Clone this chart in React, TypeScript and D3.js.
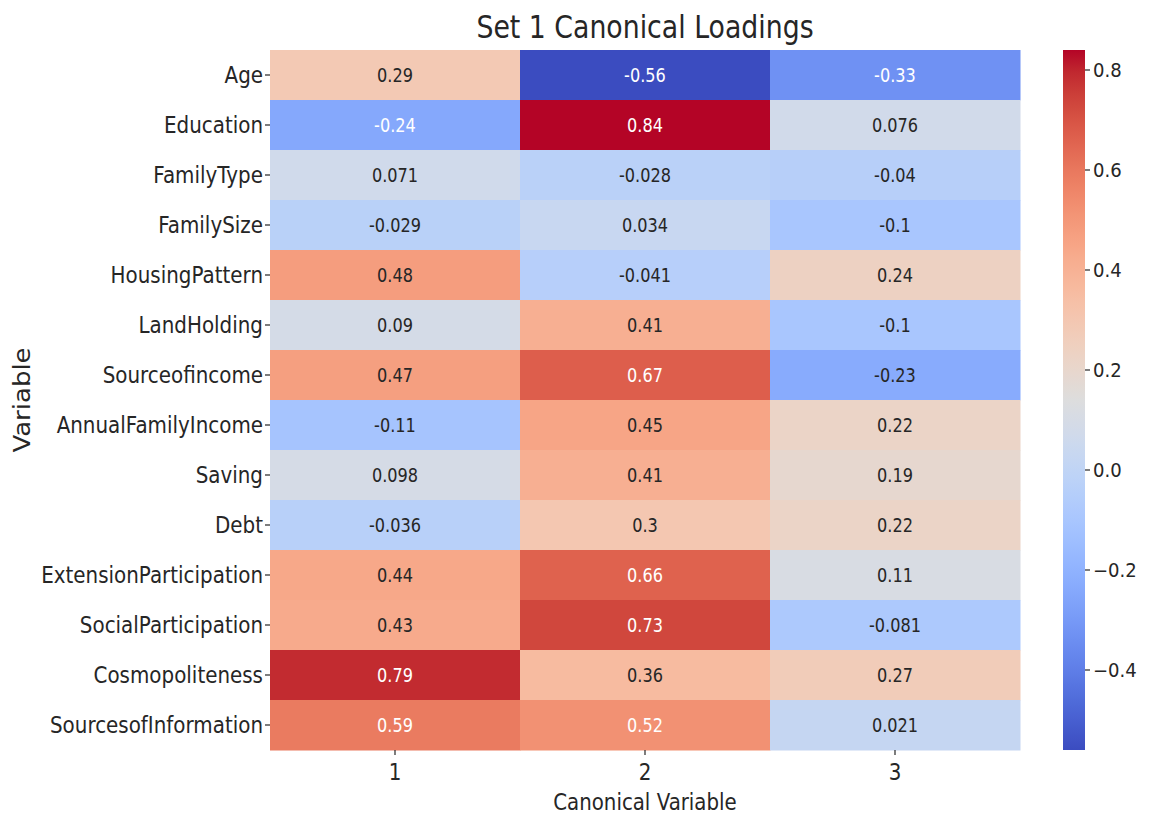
import React from "react";
import * as d3 from "d3";

const variables = [
  "Age", "Education", "FamilyType", "FamilySize", "HousingPattern", "LandHolding",
  "Sourceofincome", "AnnualFamilyIncome", "Saving", "Debt", "ExtensionParticipation",
  "SocialParticipation", "Cosmopoliteness", "SourcesofInformation",
];
const canonicalVars = ["1", "2", "3"];
const cv1 = [0.29, -0.24, 0.071, -0.029, 0.48, 0.09, 0.47, -0.11, 0.098, -0.036, 0.44, 0.43, 0.79, 0.59];
const cv2 = [-0.56, 0.84, -0.028, 0.034, -0.041, 0.41, 0.67, 0.45, 0.41, 0.3, 0.66, 0.73, 0.36, 0.52];
const cv3 = [-0.33, 0.076, -0.04, -0.1, 0.24, -0.1, -0.23, 0.22, 0.19, 0.22, 0.11, -0.081, 0.27, 0.021];
const colorbarTicks = [-0.4, -0.2, 0.0, 0.2, 0.4, 0.6, 0.8];

const coolwarmStops: [number, number, number][] = [
  [59, 76, 192], [68, 90, 204], [77, 104, 215], [87, 117, 225], [98, 130, 234],
  [108, 142, 241], [119, 154, 247], [130, 165, 251], [141, 176, 254], [152, 185, 255],
  [163, 194, 255], [174, 201, 253], [184, 208, 249], [194, 213, 244], [204, 217, 238],
  [213, 219, 230], [221, 221, 221], [229, 216, 209], [236, 211, 197], [241, 204, 185],
  [245, 196, 173], [247, 187, 160], [247, 177, 148], [247, 166, 135], [244, 154, 123],
  [241, 141, 111], [236, 127, 99], [229, 112, 88], [222, 96, 77], [213, 80, 66],
  [203, 62, 56], [192, 40, 47], [180, 4, 38],
];

const columns = [cv1, cv2, cv3];
const FONT = "'DejaVu Sans', sans-serif";
const INK = "#262626";

function T(props: {
  x: number; y: number; size: number; sx?: number; anchor?: string; fill?: string;
  rotate?: number; dy?: string; children: React.ReactNode;
}) {
  const { x, y, size, sx = 0.85, anchor = "start", fill = INK, rotate = 0, dy, children } = props;
  return (
    <text
      transform={`translate(${x},${y}) scale(${sx},1)${rotate ? ` rotate(${rotate})` : ""}`}
      textAnchor={anchor as any}
      fontFamily={FONT}
      fontSize={size}
      fill={fill}
      dy={dy}
    >
      {children}
    </text>
  );
}

export default function App() {
  const W = 1156, H = 816;
  const left = 270, right = 1020, top = 50, bottom = 750;
  const allVals = columns.flat();
  const vmin = d3.min(allVals)!;
  const vmax = d3.max(allVals)!;

  const x = d3.scaleBand<string>().domain(canonicalVars).range([left, right]);
  const y = d3.scaleBand<string>().domain(variables).range([top, bottom]);

  const stopScale = d3
    .scaleLinear<string>()
    .domain(coolwarmStops.map((_, i) => i / (coolwarmStops.length - 1)))
    .range(coolwarmStops.map((c) => `rgb(${c[0]},${c[1]},${c[2]})`))
    .interpolate(d3.interpolateRgb)
    .clamp(true);
  const norm = d3.scaleLinear().domain([vmin, vmax]).range([0, 1]).clamp(true);
  const color = (v: number) => stopScale(norm(v));

  const lum = (c: string) => {
    const rgb = d3.rgb(c);
    const f = (u: number) => {
      const s = u / 255;
      return s <= 0.03928 ? s / 12.92 : Math.pow((s + 0.055) / 1.055, 2.4);
    };
    return 0.2126 * f(rgb.r) + 0.7152 * f(rgb.g) + 0.0722 * f(rgb.b);
  };

  const cbX = 1063, cbW = 22;
  const cbScale = d3.scaleLinear().domain([vmin, vmax]).range([bottom, top]);
  const gradStops = d3.range(0, 1.0001, 1 / 64);
  const fmt = (v: number) => (v < 0 ? "-" : "") + String(Math.abs(v));

  return (
    <svg width={W} height={H} style={{ position: "absolute", left: 0, top: 0, background: "#fff" }}>
      <defs>
        <linearGradient id="cb" x1="0" y1="1" x2="0" y2="0">
          {gradStops.map((t, i) => (
            <stop key={i} offset={t} stopColor={stopScale(t)} />
          ))}
        </linearGradient>
      </defs>
      <rect x={0} y={0} width={W} height={H} fill="#fff" />
      <T x={(left + right) / 2} y={38} size={32} sx={0.836} anchor="middle">
        Set 1 Canonical Loadings
      </T>
      {columns.map((col, ci) =>
        col.map((v, ri) => {
          const c = color(v);
          const xx = x(canonicalVars[ci])!;
          const yy = y(variables[ri])!;
          return (
            <g key={`${ci}-${ri}`}>
              <rect x={xx} y={yy} width={x.bandwidth() + 0.5} height={y.bandwidth() + 0.5} fill={c} />
              <T
                x={xx + x.bandwidth() / 2}
                y={yy + y.bandwidth() / 2}
                dy="0.36em"
                anchor="middle"
                size={19}
                fill={lum(c) > 0.408 ? INK : "#ffffff"}
              >
                {fmt(v)}
              </T>
            </g>
          );
        })
      )}
      {variables.map((v) => {
        const cy = y(v)! + y.bandwidth() / 2;
        return (
          <g key={v}>
            <line x1={left - 5} x2={left} y1={cy} y2={cy} stroke={INK} strokeWidth={1.2} />
            <T x={left - 7} y={cy} dy="0.35em" anchor="end" size={23} sx={0.865}>
              {v}
            </T>
          </g>
        );
      })}
      {canonicalVars.map((c) => {
        const cx = x(c)! + x.bandwidth() / 2;
        return (
          <g key={c}>
            <line x1={cx} x2={cx} y1={bottom} y2={bottom + 5} stroke={INK} strokeWidth={1.2} />
            <T x={cx} y={780} anchor="middle" size={23} sx={0.865}>
              {c}
            </T>
          </g>
        );
      })}
      <T x={(left + right) / 2} y={810} anchor="middle" size={23} sx={0.86}>
        Canonical Variable
      </T>
      <T x={30} y={(top + bottom) / 2} anchor="middle" size={26} sx={0.85} rotate={-90}>
        Variable
      </T>
      <rect x={cbX} y={top} width={cbW} height={bottom - top} fill="url(#cb)" />
      {colorbarTicks.map((t) => {
        const ty = cbScale(t);
        return (
          <g key={t}>
            <line x1={cbX + cbW} x2={cbX + cbW + 5} y1={ty} y2={ty} stroke={INK} strokeWidth={1.2} />
            <T x={cbX + cbW + 8} y={ty} dy="0.35em" size={19} sx={0.95}>
              {t < 0 ? "\u2212" + Math.abs(t).toFixed(1) : t.toFixed(1)}
            </T>
          </g>
        );
      })}
    </svg>
  );
}
